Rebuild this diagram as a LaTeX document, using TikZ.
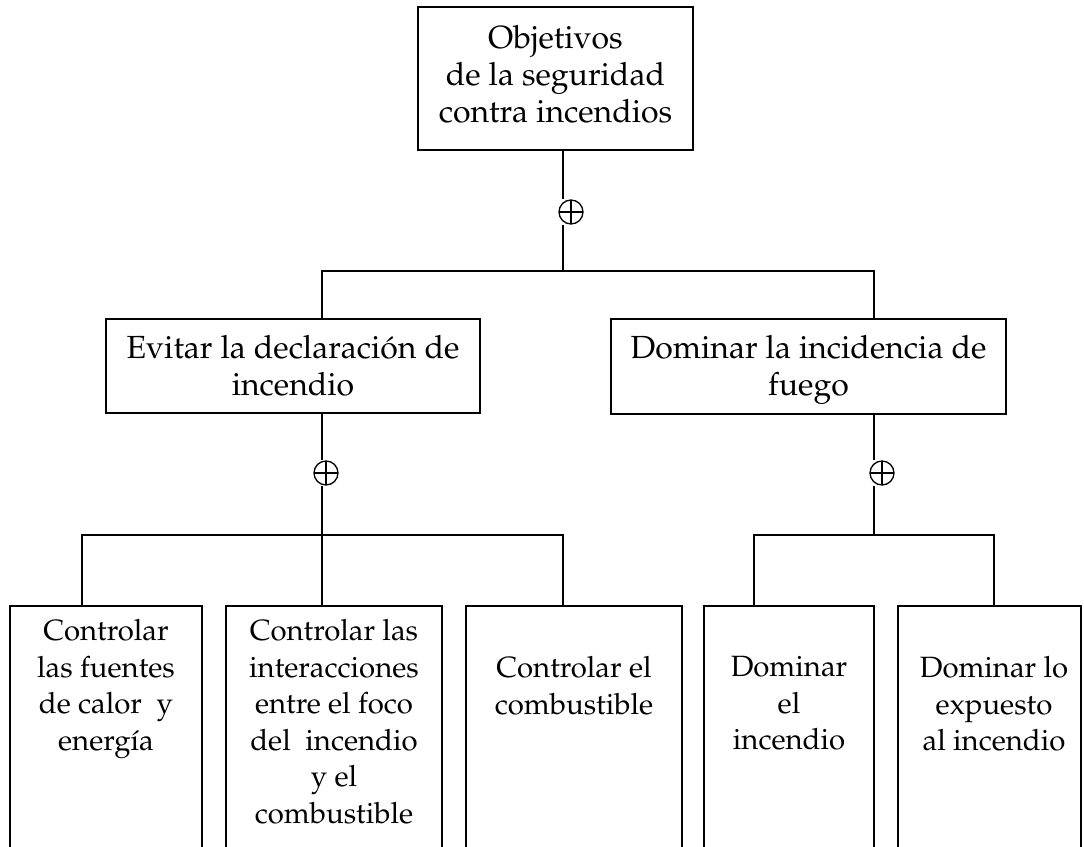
\documentclass[tikz,border=0pt]{standalone}
\usepackage[T1]{fontenc}
\usepackage{mathpazo}
\usetikzlibrary{calc,fit}

\begin{document}
\begin{tikzpicture}[
    x=0.75pt,y=-0.75pt,
    goal box/.style={draw,line width=1.3pt,inner sep=0pt},
    goal text/.style={anchor=north,inner sep=0pt,align=center,font=\fontsize{24pt}{27.75pt}\selectfont,execute at begin node=\strut},
    leaf text/.style={goal text,font=\fontsize{22pt}{27.4pt}\selectfont},
    xor circle/.style={circle,draw,line width=1pt,minimum size=18pt,inner sep=0pt,
      path picture={\draw[line width=0.8pt] (path picture bounding box.north) -- (path picture bounding box.south)
                      (path picture bounding box.west) -- (path picture bounding box.east);}},
    tree link/.style={line width=1.3pt},
  ]

  \useasboundingbox (0,0) rectangle (1084,846);
  \clip (0,0) rectangle (1084,846);

  % top goal
  \node[goal box,fit={(418,7) (693,150)}] (objetivos--box) {};
  \node[goal text] (objetivos) at (555.5,25) {Objetivos\\de la seguridad\\contra incendios};
  \node[xor circle] (objetivos-sum) at (571,212) {};
  \coordinate (objetivos-stem) at (563,271);

  \draw[tree link] (objetivos--box.south -| objetivos-stem) -- (objetivos-stem |- objetivos-sum.north);
  \draw[tree link] (objetivos-stem |- objetivos-sum.south) -- (objetivos-stem);

  % second level
  \node[goal box,fit={(106,319) (480,413)}] (evitar--box) {};
  \node[goal text] (evitar) at (293,335) {Evitar la declaraci\'on de\\incendio};
  \node[goal box,fit={(611,319) (1006,414)}] (dominar--box) {};
  \node[goal text] (dominar) at (808.5,335) {Dominar la incidencia de\\fuego};

  \coordinate (evitar-stem) at (322,535);
  \coordinate (dominar-stem) at (874,535);
  \draw[tree link] (evitar--box.north -| evitar-stem) |- (objetivos-stem) -| (dominar--box.north -| dominar-stem);

  \node[xor circle] (evitar-sum) at (326,473) {};
  \node[xor circle] (dominar-sum) at (882,473) {};
  \foreach \g in {evitar,dominar} {
    \draw[tree link] (\g--box.south -| \g-stem) -- (\g-stem |- \g-sum.north);
    \draw[tree link] (\g-stem |- \g-sum.south) -- (\g-stem);
  }

  % leaves (cut off by the lower edge)
  \node[goal box,fit={(10,606) (202,880)}] (calor--box) {};
  \node[goal box,fit={(226,606) (442,880)}] (interacciones--box) {};
  \node[goal box,fit={(466,606) (682,880)}] (combustible--box) {};
  \node[goal box,fit={(704,606) (874,880)}] (incendio--box) {};
  \node[goal box,fit={(898,606) (1081,880)}] (expuesto--box) {};

  \node[leaf text] (calor) at (106,619) {Controlar\\las fuentes\\de calor~ y\\energ\'{\i}a};
  \node[leaf text] (interacciones) at (334,619) {Controlar las\\interacciones\\entre el foco\\del~ incendio\\y el\\combustible};
  \node[leaf text] (combustible) at (574,656) {Controlar el\\combustible};
  \node[leaf text] (incendio) at (789,656) {Dominar\\el\\incendio};
  \node[leaf text] (expuesto) at (994,656) {Dominar lo\\expuesto\\al incendio};

  \coordinate (calor-stem) at (82,606);
  \coordinate (combustible-stem) at (563,606);
  \coordinate (incendio-stem) at (754,606);
  \coordinate (expuesto-stem) at (994,606);

  \draw[tree link] (calor--box.north -| calor-stem) |- (evitar-stem) -| (combustible--box.north -| combustible-stem);
  \draw[tree link] (evitar-stem) -- (interacciones--box.north -| evitar-stem);
  \draw[tree link] (incendio--box.north -| incendio-stem) |- (dominar-stem) -| (expuesto--box.north -| expuesto-stem);

\end{tikzpicture}
\end{document}
